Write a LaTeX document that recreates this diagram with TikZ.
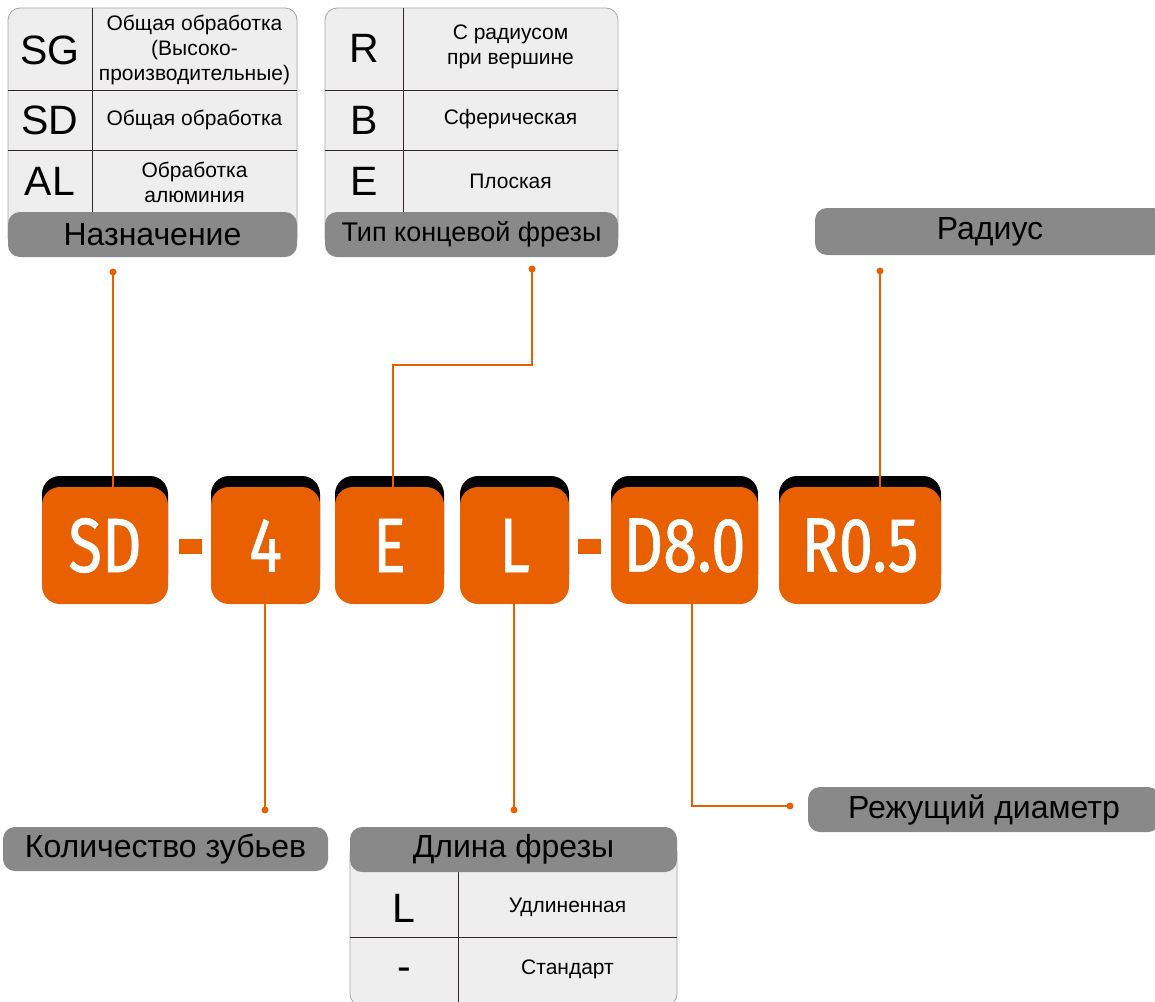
\documentclass[tikz,border=0pt]{standalone}
\usepackage{fontspec}
\setmainfont{Liberation Sans}
\newfontfamily\boxfont[FakeStretch=0.8,FakeBold=0.8]{Fira Sans}
\definecolor{org}{RGB}{233,96,0}
\definecolor{barg}{RGB}{137,137,137}
\definecolor{tabg}{RGB}{238,238,238}
\definecolor{tabb}{RGB}{165,165,165}
\definecolor{divl}{RGB}{55,40,40}
\tikzset{
  tabbox/.style={draw=tabb, fill=tabg, line width=0.8pt, rounded corners=12pt},
  barbox/.style={fill=barg, rounded corners=12pt, inner sep=0pt, font=\fontsize{32}{36}\selectfont, text=black},
  divider/.style={draw=divl, line width=0.9pt},
  codetxt/.style={font=\fontsize{41}{46}\selectfont, inner sep=0pt, anchor=base},
  desctxt/.style={font=\fontsize{21}{25}\selectfont, align=center, inner sep=0pt},
  shadowbox/.style={fill=black, rounded corners=18pt},
  orgbox/.style={fill=org, rounded corners=18pt, inner sep=0pt, font=\boxfont\fontsize{77}{80}\selectfont, text=white},
  dashbox/.style={fill=org, inner sep=0pt, minimum width=23pt, minimum height=15pt},
  conn/.style={draw=org, line width=2.2pt},
  dotn/.style={circle, fill=org, inner sep=0pt, minimum size=7pt}
}
\begin{document}
\begin{tikzpicture}[x=1pt,y=-1pt]
\clip (0,0) rectangle (1155,1001);
\fill[white] (0,0) rectangle (1155,1001);

% ---------- Table 1: Назначение ----------
\draw[tabbox] (8,8) rectangle (297,250);
\draw[divider] (8,90) -- (297,90);
\draw[divider] (8,150) -- (297,150);
\draw[divider] (92,8) -- (92,213);
\node[barbox, minimum width=289pt, minimum height=45pt] (naz) at (152.5,234.5) {Назначение};
\node[codetxt] (sg) at (50,64) {SG};
\node[codetxt] (sdc) at (50,134) {SD};
\node[codetxt] (al) at (50,195) {AL};
\node[desctxt] (sgd) at (194.5,50) {Общая обработка\\(Высоко-\\производительные)};
\node[desctxt] (sdd) at (194.5,120) {Общая обработка};
\node[desctxt] (ald) at (194.5,182) {Обработка\\алюминия};

% ---------- Table 2: Тип концевой фрезы ----------
\draw[tabbox] (325,8) rectangle (618,250);
\draw[divider] (325,90) -- (618,90);
\draw[divider] (325,150) -- (618,150);
\draw[divider] (403,8) -- (403,213);
\node[barbox, minimum width=293pt, minimum height=45pt, font=\fontsize{27}{31}\selectfont] (typ) at (471.5,234.5) {Тип концевой фрезы};
\node[codetxt] (rc) at (364,62) {R};
\node[codetxt] (bc) at (364,134) {B};
\node[codetxt] (ec) at (364,195) {E};
\node[desctxt] (rd) at (510.5,47) {С радиусом\\при вершине};
\node[desctxt] (bd) at (510.5,119) {Сферическая};
\node[desctxt] (ed) at (510.5,181) {Плоская};

% ---------- Радиус ----------
\node[barbox, minimum width=350pt, minimum height=47pt] (rad) at (990,231.5) {Радиус};

% ---------- Bottom: Количество зубьев ----------
\node[barbox, minimum width=325pt, minimum height=44pt] (kol) at (165.5,849) {Количество зубьев};

% ---------- Bottom: Длина фрезы ----------
\draw[tabbox] (350,840) rectangle (677,1006);
\draw[divider] (350,937) -- (677,937);
\draw[divider] (458,871) -- (458,1006);
\node[barbox, minimum width=327pt, minimum height=45pt] (dl) at (513.5,849.5) {Длина фрезы};
\node[codetxt] (lc) at (404,922) {L};
\node[codetxt] (mc) at (404,980) {-};
\node[desctxt] (ld) at (567.5,907) {Удлиненная};
\node[desctxt] (md) at (567.5,969) {Стандарт};

% ---------- Режущий диаметр ----------
\node[barbox, minimum width=352pt, minimum height=45pt] (rez) at (984,809.5) {Режущий диаметр};

% ---------- Code boxes ----------
\fill[shadowbox] (42,476) rectangle (168,592);
\fill[shadowbox] (211,476) rectangle (320,592);
\fill[shadowbox] (335,476) rectangle (444,592);
\fill[shadowbox] (460,476) rectangle (569,592);
\fill[shadowbox] (611,476) rectangle (758,592);
\fill[shadowbox] (779,476) rectangle (941,592);

\node[orgbox, minimum width=126pt, minimum height=117pt] (bsd) at (105,545.5) {SD};
\node[dashbox] (dash1) at (190.5,546.5) {};
\node[orgbox, minimum width=109pt, minimum height=117pt] (b4) at (265.5,545.5) {4};
\node[orgbox, minimum width=109pt, minimum height=117pt] (be) at (389.5,545.5) {E};
\node[orgbox, minimum width=109pt, minimum height=117pt] (bl) at (514.5,545.5) {L};
\node[dashbox] (dash2) at (589.5,546.5) {};
\node[orgbox, minimum width=147pt, minimum height=117pt] (bd8) at (684.5,545.5) {D8.0};
\node[orgbox, minimum width=162pt, minimum height=117pt] (br) at (860,545.5) {R0.5};

% ---------- Connectors ----------
\node[dotn] (p1) at (113,272) {};
\node[dotn] (p2) at (532,269) {};
\node[dotn] (p3) at (880,271) {};
\node[dotn] (p4) at (265,810) {};
\node[dotn] (p5) at (514,810) {};
\node[dotn] (p6) at (790,806) {};
\coordinate (k2) at (532,365);
\coordinate (k2b) at (393,365);
\coordinate (k6) at (692,806);

\draw[conn] (p1.center) -- (p1 |- bsd.north);
\draw[conn] (p2.center) -- (k2) -- (k2b) -- (k2b |- be.north);
\draw[conn] (p3.center) -- (p3 |- br.north);
\draw[conn] (p4.center) -- (p4 |- b4.south);
\draw[conn] (p5.center) -- (p5 |- bl.south);
\draw[conn] (p6.center) -- (k6) -- (k6 |- bd8.south);
\end{tikzpicture}
\end{document}
